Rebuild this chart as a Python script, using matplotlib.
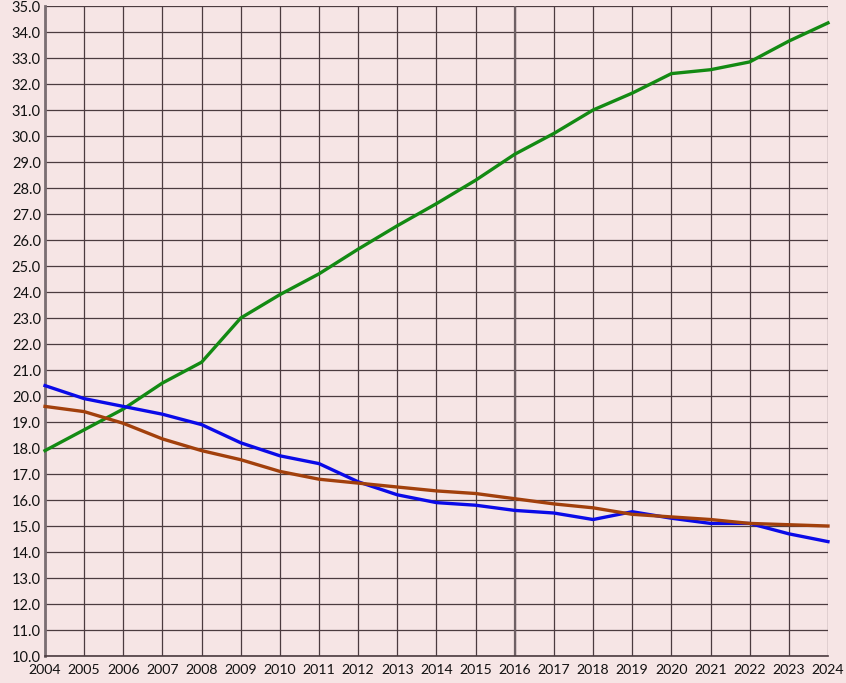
import matplotlib
matplotlib.use("Agg")
import matplotlib.pyplot as plt

years = list(range(2004, 2025))

green = [17.9, 18.7, 19.5, 20.5, 21.3, 23.0, 23.9, 24.7, 25.65, 26.55, 27.4, 28.3,
         29.3, 30.1, 31.0, 31.65, 32.4, 32.55, 32.85, 33.65, 34.35]
blue = [20.4, 19.9, 19.6, 19.3, 18.9, 18.2, 17.7, 17.4, 16.7, 16.2, 15.9, 15.8,
        15.6, 15.5, 15.25, 15.55, 15.3, 15.1, 15.1, 14.7, 14.4]
brown = [19.6, 19.4, 18.95, 18.35, 17.9, 17.55, 17.1, 16.8, 16.65, 16.5, 16.35, 16.25,
         16.05, 15.85, 15.7, 15.45, 15.35, 15.25, 15.1, 15.05, 15.0]

yticks = [10 + i for i in range(26)]

bg = "#f6e5e5"
gridc = "#4b3b3f"

plt.rcParams['font.family'] = ['Lato', 'DejaVu Sans']

fig = plt.figure(figsize=(8.46, 6.83), dpi=100, facecolor=bg)
ax = fig.add_axes([0.0532, 0.0395, 0.9255, 0.9517])
ax.set_facecolor(bg)

ax.set_xlim(2004, 2024)
ax.set_ylim(10, 35)
ax.set_xticks(years)
ax.set_xticklabels([str(y) for y in years])
ax.set_yticks(yticks)
ax.set_yticklabels(["%.1f" % v for v in yticks])
ax.grid(True, color=gridc, linewidth=0.9)
ax.axvline(2016, color="#6e6064", linewidth=1.6, zorder=1)
ax.set_axisbelow(True)

for s in ["top", "right"]:
    ax.spines[s].set_visible(False)
ax.spines["left"].set_color("#7a6e72")
ax.spines["left"].set_linewidth(2)
ax.spines["bottom"].set_color(gridc)
ax.spines["bottom"].set_linewidth(1.2)
ax.tick_params(length=0, labelsize=10.5, colors="#111111", pad=6)
ax.tick_params(axis="x", labelsize=10.2)
ax.tick_params(axis="y", pad=3)

ax.plot(years, green, color="#138a13", linewidth=2.4, zorder=3, clip_on=False)
ax.plot(years, blue, color="#0a0ae8", linewidth=2.4, zorder=3, clip_on=False)
ax.plot(years, brown, color="#a2400c", linewidth=2.4, zorder=3, clip_on=False)

fig.savefig("out.png", dpi=100, facecolor=bg)
